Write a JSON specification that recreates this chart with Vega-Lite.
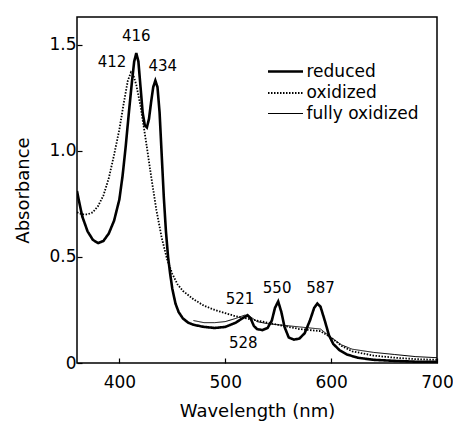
{
  "$schema": "https://vega.github.io/schema/vega-lite/v6.json",
  "width": 360,
  "height": 346,
  "autosize": {"type": "none"},
  "padding": {"left": 77, "top": 17, "right": 16, "bottom": 59},
  "config": {
    "font": "DejaVu Sans",
    "view": {"stroke": "black", "strokeWidth": 1.5},
    "axis": {
      "domain": false,
      "grid": false,
      "tickColor": "black",
      "tickWidth": 1.2,
      "tickSize": -5,
      "labelColor": "black",
      "labelFontSize": 17,
      "labelFlush": false,
      "titleColor": "black",
      "titleFontSize": 18,
      "titleFontWeight": "normal"
    },
    "legend": {
      "orient": "none",
      "legendX": 197,
      "legendY": 43,
      "title": null,
      "symbolType": "M-1.75,0H1.75",
      "symbolSize": 400,
      "symbolStrokeColor": "black",
      "labelFontSize": 17,
      "labelColor": "black",
      "labelOffset": 9.5,
      "rowPadding": 2
    }
  },
  "datasets": {
    "spectra": [
      {"series": "reduced", "nm": 360, "A": 0.81},
      {"series": "reduced", "nm": 362, "A": 0.76},
      {"series": "reduced", "nm": 365, "A": 0.69},
      {"series": "reduced", "nm": 370, "A": 0.62},
      {"series": "reduced", "nm": 375, "A": 0.58},
      {"series": "reduced", "nm": 380, "A": 0.565},
      {"series": "reduced", "nm": 385, "A": 0.575},
      {"series": "reduced", "nm": 390, "A": 0.61},
      {"series": "reduced", "nm": 395, "A": 0.67},
      {"series": "reduced", "nm": 400, "A": 0.77},
      {"series": "reduced", "nm": 403, "A": 0.88},
      {"series": "reduced", "nm": 406, "A": 1.02},
      {"series": "reduced", "nm": 409, "A": 1.18},
      {"series": "reduced", "nm": 412, "A": 1.33},
      {"series": "reduced", "nm": 414, "A": 1.42},
      {"series": "reduced", "nm": 416, "A": 1.46},
      {"series": "reduced", "nm": 418, "A": 1.42},
      {"series": "reduced", "nm": 420, "A": 1.30},
      {"series": "reduced", "nm": 422, "A": 1.18},
      {"series": "reduced", "nm": 424, "A": 1.12},
      {"series": "reduced", "nm": 426, "A": 1.11},
      {"series": "reduced", "nm": 428, "A": 1.15},
      {"series": "reduced", "nm": 430, "A": 1.23},
      {"series": "reduced", "nm": 432, "A": 1.30},
      {"series": "reduced", "nm": 434, "A": 1.33},
      {"series": "reduced", "nm": 436, "A": 1.30},
      {"series": "reduced", "nm": 438, "A": 1.18},
      {"series": "reduced", "nm": 440, "A": 0.98},
      {"series": "reduced", "nm": 442, "A": 0.78},
      {"series": "reduced", "nm": 444, "A": 0.62},
      {"series": "reduced", "nm": 446, "A": 0.50},
      {"series": "reduced", "nm": 448, "A": 0.42},
      {"series": "reduced", "nm": 450, "A": 0.35},
      {"series": "reduced", "nm": 453, "A": 0.28},
      {"series": "reduced", "nm": 456, "A": 0.24},
      {"series": "reduced", "nm": 460, "A": 0.21},
      {"series": "reduced", "nm": 465, "A": 0.19},
      {"series": "reduced", "nm": 470, "A": 0.18},
      {"series": "reduced", "nm": 480, "A": 0.17},
      {"series": "reduced", "nm": 490, "A": 0.165},
      {"series": "reduced", "nm": 500, "A": 0.17},
      {"series": "reduced", "nm": 510, "A": 0.19},
      {"series": "reduced", "nm": 516, "A": 0.21},
      {"series": "reduced", "nm": 521, "A": 0.225},
      {"series": "reduced", "nm": 524, "A": 0.21},
      {"series": "reduced", "nm": 527, "A": 0.175},
      {"series": "reduced", "nm": 530, "A": 0.16},
      {"series": "reduced", "nm": 535, "A": 0.155},
      {"series": "reduced", "nm": 540, "A": 0.165},
      {"series": "reduced", "nm": 544, "A": 0.2},
      {"series": "reduced", "nm": 547, "A": 0.26},
      {"series": "reduced", "nm": 550, "A": 0.29},
      {"series": "reduced", "nm": 553, "A": 0.24},
      {"series": "reduced", "nm": 556, "A": 0.17},
      {"series": "reduced", "nm": 560, "A": 0.12},
      {"series": "reduced", "nm": 565, "A": 0.11},
      {"series": "reduced", "nm": 570, "A": 0.115},
      {"series": "reduced", "nm": 575, "A": 0.14},
      {"series": "reduced", "nm": 580, "A": 0.2},
      {"series": "reduced", "nm": 584, "A": 0.26},
      {"series": "reduced", "nm": 587, "A": 0.28},
      {"series": "reduced", "nm": 590, "A": 0.265},
      {"series": "reduced", "nm": 594, "A": 0.2},
      {"series": "reduced", "nm": 598, "A": 0.13},
      {"series": "reduced", "nm": 602, "A": 0.09},
      {"series": "reduced", "nm": 608, "A": 0.06},
      {"series": "reduced", "nm": 615, "A": 0.04},
      {"series": "reduced", "nm": 625, "A": 0.025},
      {"series": "reduced", "nm": 640, "A": 0.015},
      {"series": "reduced", "nm": 660, "A": 0.01},
      {"series": "reduced", "nm": 680, "A": 0.006},
      {"series": "reduced", "nm": 700, "A": 0.005},
      {"series": "oxidized", "nm": 360, "A": 0.71},
      {"series": "oxidized", "nm": 365, "A": 0.70},
      {"series": "oxidized", "nm": 370, "A": 0.70},
      {"series": "oxidized", "nm": 375, "A": 0.71},
      {"series": "oxidized", "nm": 380, "A": 0.74},
      {"series": "oxidized", "nm": 385, "A": 0.79},
      {"series": "oxidized", "nm": 390, "A": 0.87},
      {"series": "oxidized", "nm": 395, "A": 0.98},
      {"series": "oxidized", "nm": 400, "A": 1.10},
      {"series": "oxidized", "nm": 404, "A": 1.22},
      {"series": "oxidized", "nm": 408, "A": 1.33},
      {"series": "oxidized", "nm": 411, "A": 1.37},
      {"series": "oxidized", "nm": 413, "A": 1.36},
      {"series": "oxidized", "nm": 416, "A": 1.31},
      {"series": "oxidized", "nm": 420, "A": 1.21},
      {"series": "oxidized", "nm": 425, "A": 1.05},
      {"series": "oxidized", "nm": 430, "A": 0.88},
      {"series": "oxidized", "nm": 435, "A": 0.72},
      {"series": "oxidized", "nm": 440, "A": 0.59},
      {"series": "oxidized", "nm": 445, "A": 0.49},
      {"series": "oxidized", "nm": 450, "A": 0.42},
      {"series": "oxidized", "nm": 455, "A": 0.37},
      {"series": "oxidized", "nm": 460, "A": 0.34},
      {"series": "oxidized", "nm": 470, "A": 0.30},
      {"series": "oxidized", "nm": 480, "A": 0.27},
      {"series": "oxidized", "nm": 490, "A": 0.25},
      {"series": "oxidized", "nm": 500, "A": 0.235},
      {"series": "oxidized", "nm": 510, "A": 0.22},
      {"series": "oxidized", "nm": 520, "A": 0.21},
      {"series": "oxidized", "nm": 530, "A": 0.2},
      {"series": "oxidized", "nm": 540, "A": 0.19},
      {"series": "oxidized", "nm": 550, "A": 0.18},
      {"series": "oxidized", "nm": 560, "A": 0.17},
      {"series": "oxidized", "nm": 570, "A": 0.16},
      {"series": "oxidized", "nm": 580, "A": 0.155},
      {"series": "oxidized", "nm": 590, "A": 0.15},
      {"series": "oxidized", "nm": 600, "A": 0.12},
      {"series": "oxidized", "nm": 610, "A": 0.08},
      {"series": "oxidized", "nm": 620, "A": 0.055},
      {"series": "oxidized", "nm": 640, "A": 0.035},
      {"series": "oxidized", "nm": 660, "A": 0.025},
      {"series": "oxidized", "nm": 680, "A": 0.018},
      {"series": "oxidized", "nm": 700, "A": 0.015},
      {"series": "fully oxidized", "nm": 470, "A": 0.2},
      {"series": "fully oxidized", "nm": 480, "A": 0.19},
      {"series": "fully oxidized", "nm": 490, "A": 0.19},
      {"series": "fully oxidized", "nm": 500, "A": 0.195},
      {"series": "fully oxidized", "nm": 510, "A": 0.21},
      {"series": "fully oxidized", "nm": 518, "A": 0.225},
      {"series": "fully oxidized", "nm": 522, "A": 0.225},
      {"series": "fully oxidized", "nm": 526, "A": 0.21},
      {"series": "fully oxidized", "nm": 530, "A": 0.195},
      {"series": "fully oxidized", "nm": 540, "A": 0.185},
      {"series": "fully oxidized", "nm": 550, "A": 0.18},
      {"series": "fully oxidized", "nm": 560, "A": 0.175},
      {"series": "fully oxidized", "nm": 570, "A": 0.17},
      {"series": "fully oxidized", "nm": 580, "A": 0.165},
      {"series": "fully oxidized", "nm": 590, "A": 0.16},
      {"series": "fully oxidized", "nm": 600, "A": 0.12},
      {"series": "fully oxidized", "nm": 610, "A": 0.085},
      {"series": "fully oxidized", "nm": 620, "A": 0.065},
      {"series": "fully oxidized", "nm": 640, "A": 0.05},
      {"series": "fully oxidized", "nm": 660, "A": 0.04},
      {"series": "fully oxidized", "nm": 680, "A": 0.03},
      {"series": "fully oxidized", "nm": 700, "A": 0.025}
    ],
    "peaks": [
      {"label": "416", "nm": 416, "A": 1.54},
      {"label": "412", "nm": 393, "A": 1.42},
      {"label": "434", "nm": 441, "A": 1.40},
      {"label": "521", "nm": 514, "A": 0.30},
      {"label": "550", "nm": 549, "A": 0.355},
      {"label": "587", "nm": 590, "A": 0.355},
      {"label": "528", "nm": 517, "A": 0.095}
    ]
  },
  "layer": [
    {
      "data": {"name": "spectra"},
      "mark": {"type": "line", "color": "black", "clip": true},
      "encoding": {
        "x": {
          "field": "nm", "type": "quantitative",
          "scale": {"domain": [360, 700], "nice": false, "zero": false},
          "axis": {"values": [400, 500, 600, 700], "title": "Wavelength (nm)", "labelPadding": 16, "titlePadding": 12}
        },
        "y": {
          "field": "A", "type": "quantitative",
          "scale": {"domain": [0, 1.63], "nice": false},
          "axis": {"values": [0, 0.5, 1.0, 1.5], "title": "Absorbance", "labelExpr": "datum.value == 0 ? '0' : format(datum.value, '.1f')", "labelPadding": 6, "titlePadding": 16}
        },
        "strokeDash": {
          "field": "series", "type": "nominal",
          "scale": {"domain": ["reduced", "oxidized", "fully oxidized"], "range": [[1, 0], [1.5, 1.5], [1, 0]]}
        },
        "strokeWidth": {
          "field": "series", "type": "nominal",
          "scale": {"domain": ["reduced", "oxidized", "fully oxidized"], "range": [2.6, 1, 1.1]}
        }
      }
    },
    {
      "data": {"name": "peaks"},
      "mark": {"type": "text", "fontSize": 15, "color": "black"},
      "encoding": {
        "x": {"field": "nm", "type": "quantitative"},
        "y": {"field": "A", "type": "quantitative"},
        "text": {"field": "label", "type": "nominal"}
      }
    }
  ]
}
